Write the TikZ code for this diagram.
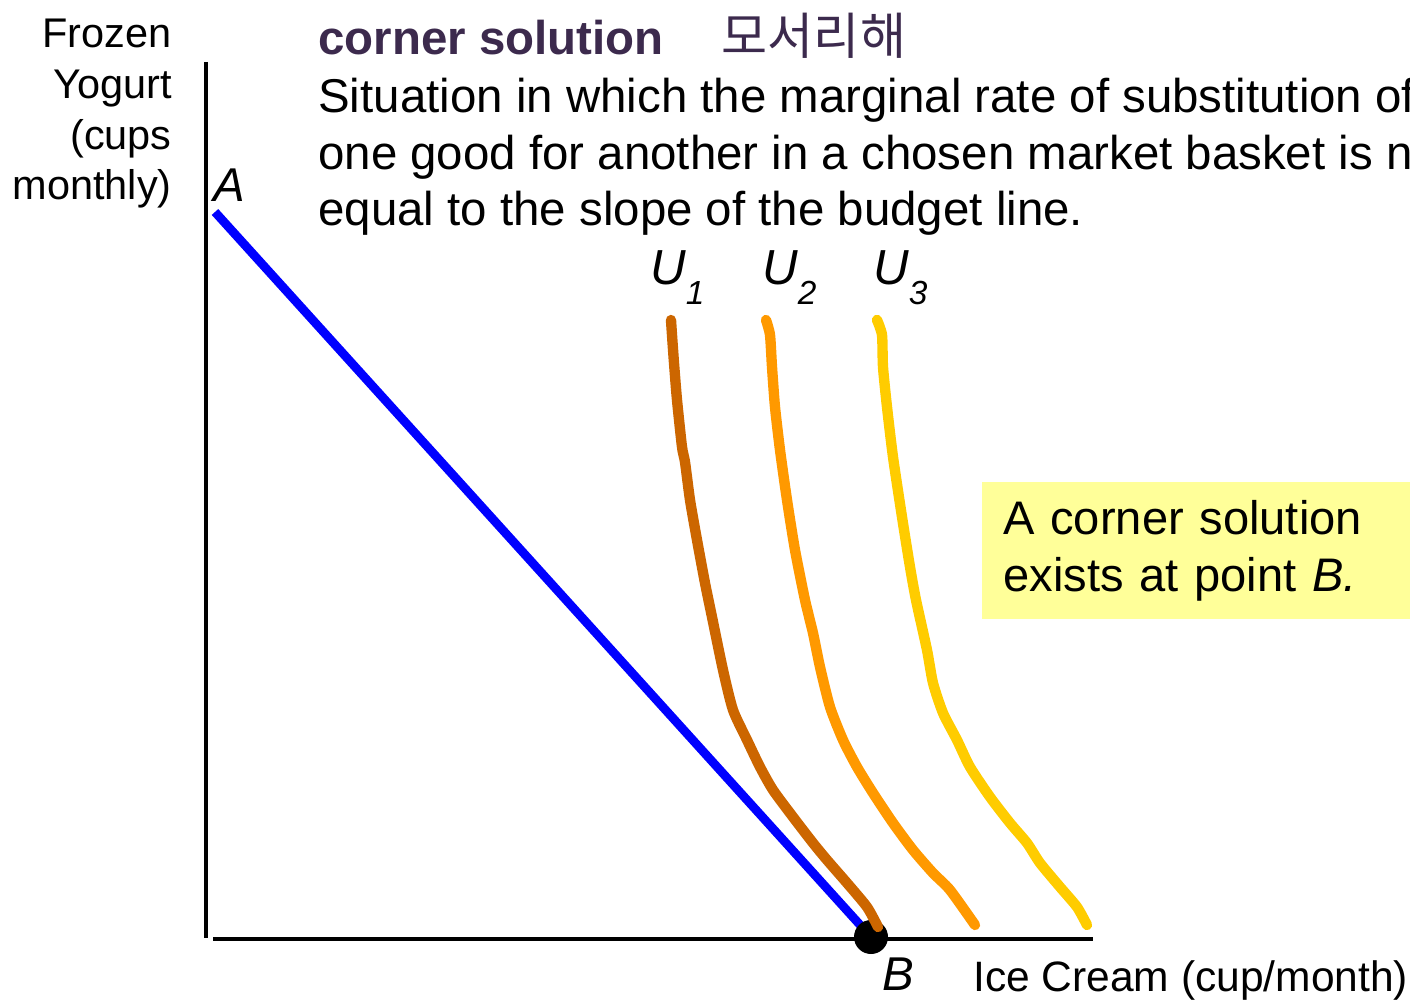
\documentclass[tikz,border=0pt]{standalone}
\usepackage{fontspec}
\setmainfont{Liberation Sans}
\newfontfamily\kofont{Noto Sans CJK KR}
\usepackage{xcolor}
\usetikzlibrary{positioning}

\definecolor{titlepurple}{HTML}{3C2A4D}
\definecolor{budgetblue}{HTML}{0000FF}
\definecolor{uone}{HTML}{CC6600}
\definecolor{utwo}{HTML}{FF9900}
\definecolor{uthree}{HTML}{FFCC00}
\definecolor{noteyellow}{HTML}{FFFF99}
\newcommand{\usub}[1]{\raisebox{-0.4em}{\fontsize{19pt}{19pt}\selectfont #1}}

\begin{document}
\begin{tikzpicture}[
        x=0.02cm, y=-0.02cm,
        txt/.style={inner sep=0pt, anchor=base west, align=left, font=\fontsize{27pt}{32.3pt}\selectfont},
        axislbl/.style={inner sep=0pt, font=\fontsize{23.6pt}{28.9pt}\selectfont},
        axis/.style={line width=2.8pt},
        budget/.style={line width=5pt, draw=budgetblue},
        ucurve/.style={line width=5.9pt, line cap=round, line join=round},
        ulbl/.style={inner sep=0pt, anchor=base west, font=\fontsize{28pt}{28pt}\selectfont\itshape},
        ptlbl/.style={inner sep=0pt, anchor=base west, font=\fontsize{27pt}{27pt}\selectfont\itshape},
        note/.style={fill=noteyellow, align=left, inner xsep=0.42cm, inner ysep=0pt,
            minimum height=2.74cm, text width=9cm, font=\fontsize{26.8pt}{32.3pt}\selectfont}
    ]
    \useasboundingbox (0,0) rectangle (1410,1000);

    % heading and definition
    \node[txt, font=\fontsize{27pt}{32.3pt}\selectfont\bfseries, text=titlepurple] (title) at (318,55) {corner solution};
    \node[txt, font=\fontsize{28.5pt}{32.3pt}\selectfont\kofont, text=titlepurple, right=1.15cm of title.base east, anchor=base west] (titleko) {모서리해};
    \node[txt] (defn) at (318,226) {Situation in which the marginal rate of substitution of\\
        one good for another in a chosen market basket is not\\
        equal to the slope of the budget line.};

    % axes
    \coordinate (ytop) at (206,62);
    \coordinate (O) at (206,938);
    \coordinate (xend) at (1093,939);
    \draw[axis] (ytop) -- (O);
    \draw[axis] (213,939) -- (xend);
    \node[axislbl, anchor=base east, align=right] (ylbl) at (172,200) {Frozen\\Yogurt\\(cups\\monthly)};
    \node[axislbl, anchor=base west, font=\fontsize{24.2pt}{28.9pt}\selectfont] (xlbl) at (973,991) {Ice Cream (cup/month)};

    % budget line and corner point
    \coordinate (A) at (215,212);
    \node[ptlbl] (lblA) at (213,202) {A};
    \coordinate (B) at (871,937);
    \draw[budget] (A) -- (B);
    \node[circle, fill=black, minimum size=0.68cm, inner sep=0pt] (dotB) at (B) {};
    \node[ptlbl] (lblB) at (882,990) {B};

    % indifference curves
    \draw[ucurve, uone] plot[smooth, tension=0.4] coordinates {(671,320) (672,335) (674,363) (677,400)
        (682,447) (685,462) (690,500) (697,540) (705,583) (712,617) (723,670) (733,710)
        (747,740) (760,767) (773,790) (793,817) (813,843) (827,860) (847,883) (867,907) (878,927)};
    \draw[ucurve, utwo] plot[smooth, tension=0.4] coordinates {(766,320) (770,335) (772,367) (775,407)
        (780,450) (787,500) (795,550) (805,600) (813,633) (820,667) (830,707) (843,740)
        (857,767) (873,793) (893,823) (913,850) (933,873) (950,890) (975,925)};
    \draw[ucurve, uthree] plot[smooth, tension=0.4] coordinates {(877,320) (882,335) (883,367) (887,407)
        (893,457) (902,517) (910,567) (916,600) (927,650) (933,683) (943,713) (957,740)
        (970,767) (990,797) (1010,823) (1027,843) (1040,863) (1060,887) (1077,907) (1087,925)};
    \node[ulbl] (u1) at (650,285) {U\usub{1}};
    \node[ulbl] (u2) at (762,285) {U\usub{2}};
    \node[ulbl] (u3) at (873,285) {U\usub{3}};

    % note
    \node[note, anchor=north west] (corner) at (982,482) {A corner solution\\exists at point \textit{B.}};
\end{tikzpicture}
\end{document}
